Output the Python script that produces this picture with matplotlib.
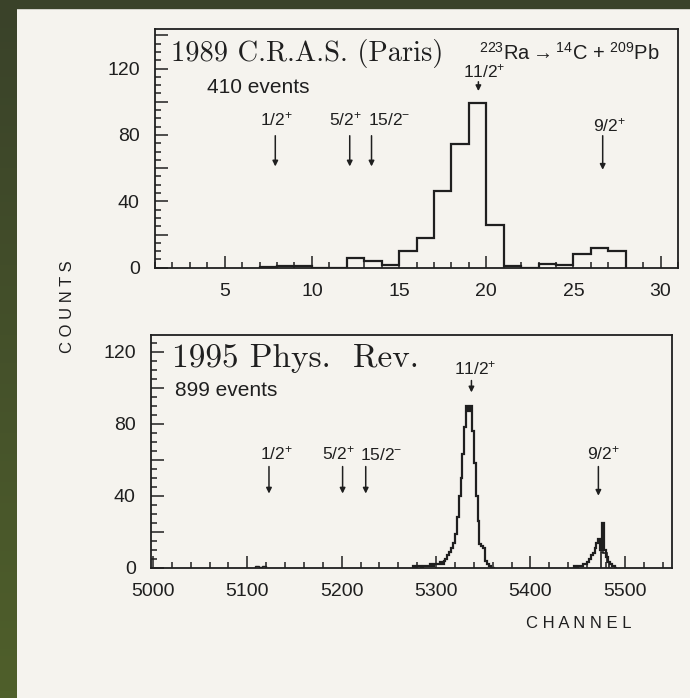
import numpy as np
import matplotlib
matplotlib.use("Agg")
import matplotlib.pyplot as plt
from matplotlib.ticker import MultipleLocator, FuncFormatter
from matplotlib.patches import Rectangle

# ---------------- data ----------------
# 1989 C.R.A.S. (Paris) spectrum, bins of one channel
top_edges = [7, 8, 9, 10, 11, 12, 13, 14, 15, 16, 17, 18, 19, 20, 21, 22, 23, 24, 25, 26, 27, 28]
top_counts = [0.6, 0.8, 1.2, 0, 0, 6, 4, 1.5, 10, 18, 46, 74.5, 99, 26, 1, 0, 2.5, 1.8, 8.5, 12, 10]

top_levels = ["1/2$^{+}$", "5/2$^{+}$", "15/2$^{-}$", "11/2$^{+}$", "9/2$^{+}$"]
top_arrow_x = [7.9, 12.17, 13.42, 19.55, 26.68]
top_label_x = [7.97, 11.93, 14.45, 19.9, 27.07]
top_label_y = [86, 86, 86, 114.6, 82]
top_arrow_from = [79.5, 79.5, 79.5, 112, 79.5]
top_arrow_to = [61, 61, 61, 106.4, 59]

# 1995 Phys. Rev. spectrum, bins of two channels
bot_edges_a = np.arange(5276, 5364, 2)
bot_counts_a = [1, 0, 1, 1, 0, 1, 1, 1, 1, 2, 1, 2, 2, 2, 3, 2, 4, 5, 7, 9, 11,
                14, 19, 28, 40, 50, 63, 78, 90, 87, 90, 76, 58, 40, 26, 13, 12, 11,
                4, 2, 1, 0, 0]
bot_edges_b = np.arange(5446, 5494, 2)
bot_counts_b = [1, 0, 1, 1, 1, 2, 2, 3, 5, 7, 8, 11, 14, 16, 10, 25, 10, 6, 3, 2, 1, 1, 0]
bot_edges_c = [5475, 5477, 5479, 5481, 5483]
bot_counts_c = [9, 8, 8, 3]
bot_noise_edges = [5108, 5112, 5116, 5120]
bot_noise_counts = [1, 0.5, 1]

bot_levels = ["1/2$^{+}$", "5/2$^{+}$", "15/2$^{-}$", "11/2$^{+}$", "9/2$^{+}$"]
bot_arrow_x = [5123, 5201, 5225.5, 5337.5, 5472]
bot_label_x = [5131, 5197, 5241.8, 5342, 5477]
bot_label_y = [60, 60, 60, 107.7, 60]
bot_arrow_from = [56.2, 56.2, 56.2, 104, 56.2]
bot_arrow_to = [41.2, 41.2, 41.2, 97.4, 40]

# ---------------- style ----------------
INK = "#1f1f1f"
PAPER = "#f5f3ee"
plt.rcParams["font.family"] = ["Liberation Sans", "DejaVu Sans"]
plt.rcParams["mathtext.fontset"] = "custom"
plt.rcParams["mathtext.rm"] = "Liberation Sans"
plt.rcParams["mathtext.it"] = "Liberation Sans:italic"
plt.rcParams["mathtext.bf"] = "Liberation Sans:bold"

fig = plt.figure(figsize=(6.9, 6.98), dpi=100, facecolor=PAPER)

# scan border
grad = fig.add_axes([0, 0, 17 / 690, 1])
grad.imshow(np.linspace(0, 1, 100).reshape(-1, 1), aspect="auto",
            cmap=matplotlib.colors.LinearSegmentedColormap.from_list(
                "g", ["#3a4229", "#4f5f2b"]), extent=[0, 1, 0, 1], origin="upper")
grad.set_axis_off()
fig.patches.append(Rectangle((0, 1 - 8 / 698), 1, 8 / 698, transform=fig.transFigure,
                             color="#3a4229", zorder=5))


def style_axes(ax, xmaj, xmin, tickfs=14):
    ax.set_facecolor("none")
    for s in ax.spines.values():
        s.set_linewidth(1.3)
        s.set_color(INK)
    ax.xaxis.set_major_locator(MultipleLocator(xmaj))
    ax.xaxis.set_minor_locator(MultipleLocator(xmin))
    ax.yaxis.set_major_locator(MultipleLocator(20))
    ax.yaxis.set_minor_locator(MultipleLocator(5))
    ax.yaxis.set_major_formatter(FuncFormatter(lambda v, p: f"{int(round(v))}" if round(v) % 40 == 0 else ""))
    ax.tick_params(which="both", direction="in", top=False, right=False, colors=INK,
                   labelsize=tickfs, width=1.1)
    ax.tick_params(which="major", length=9, pad=11)
    ax.tick_params(which="minor", length=4.5)


def annotate_levels(ax, labels, lx, ly, ax_x, a0, a1, fs=12.5):
    for lab, x, y, xa, y0, y1 in zip(labels, lx, ly, ax_x, a0, a1):
        ax.text(x, y, lab, ha="center", va="baseline", fontsize=fs, color=INK)
        ax.annotate("", xy=(xa, y1), xytext=(xa, y0),
                    arrowprops=dict(arrowstyle="-|>", lw=1.1, color=INK,
                                    mutation_scale=8, shrinkA=0, shrinkB=0))


# ---------------- top panel ----------------
ax1 = fig.add_axes([155 / 690, 1 - 267.7 / 698, (678 - 155) / 690, (267.7 - 29) / 698])
ax1.stairs(top_counts, top_edges, color=INK, lw=1.6)
ax1.set_xlim(1, 31)
ax1.set_ylim(0, 143.8)
style_axes(ax1, 5, 1)
ax1.text(1.93, 124.5, "1989 C.R.A.S. (Paris)", family="cmr10", fontsize=20.5,
         va="baseline", ha="left", color=INK)
ax1.text(19.6, 125.4, r"$^{223}$Ra$\rightarrow$$^{14}$C + $^{209}$Pb", fontsize=14.5,
         va="baseline", ha="left", color=INK)
ax1.text(4.0, 105, "410 events", fontsize=15, va="baseline", ha="left", color=INK)
annotate_levels(ax1, top_levels, top_label_x, top_label_y, top_arrow_x,
                top_arrow_from, top_arrow_to)

# ---------------- bottom panel ----------------
ax2 = fig.add_axes([151 / 690, 1 - 567.7 / 698, (672 - 151) / 690, (567.7 - 335) / 698])
ax2.stairs(bot_counts_a, bot_edges_a, color=INK, lw=1.6)
ax2.stairs(bot_counts_b, bot_edges_b, color=INK, lw=1.6)
ax2.stairs(bot_counts_c, bot_edges_c, color=INK, lw=1.2)
ax2.stairs(bot_noise_counts, bot_noise_edges, color=INK, lw=1.0)
ax2.set_xlim(4998, 5550)
ax2.set_ylim(0, 129.3)
style_axes(ax2, 100, 20)
ax2.text(5020, 111.5, "1995 Phys.  Rev.", family="cmr10", fontsize=24,
         va="baseline", ha="left", color=INK)
ax2.text(5023.6, 95.5, "899 events", fontsize=15, va="baseline", ha="left", color=INK)
annotate_levels(ax2, bot_levels, bot_label_x, bot_label_y, bot_arrow_x,
                bot_arrow_from, bot_arrow_to)

fig.text(67.5 / 690, 1 - 306.5 / 698, "C O U N T S", rotation=90, ha="center",
         va="center", fontsize=12, color=INK)
fig.text(579 / 690, 1 - 623.5 / 698, "C H A N N E L", ha="center", va="center",
         fontsize=12, color=INK)

fig.savefig("out.png", dpi=100, facecolor=PAPER)
